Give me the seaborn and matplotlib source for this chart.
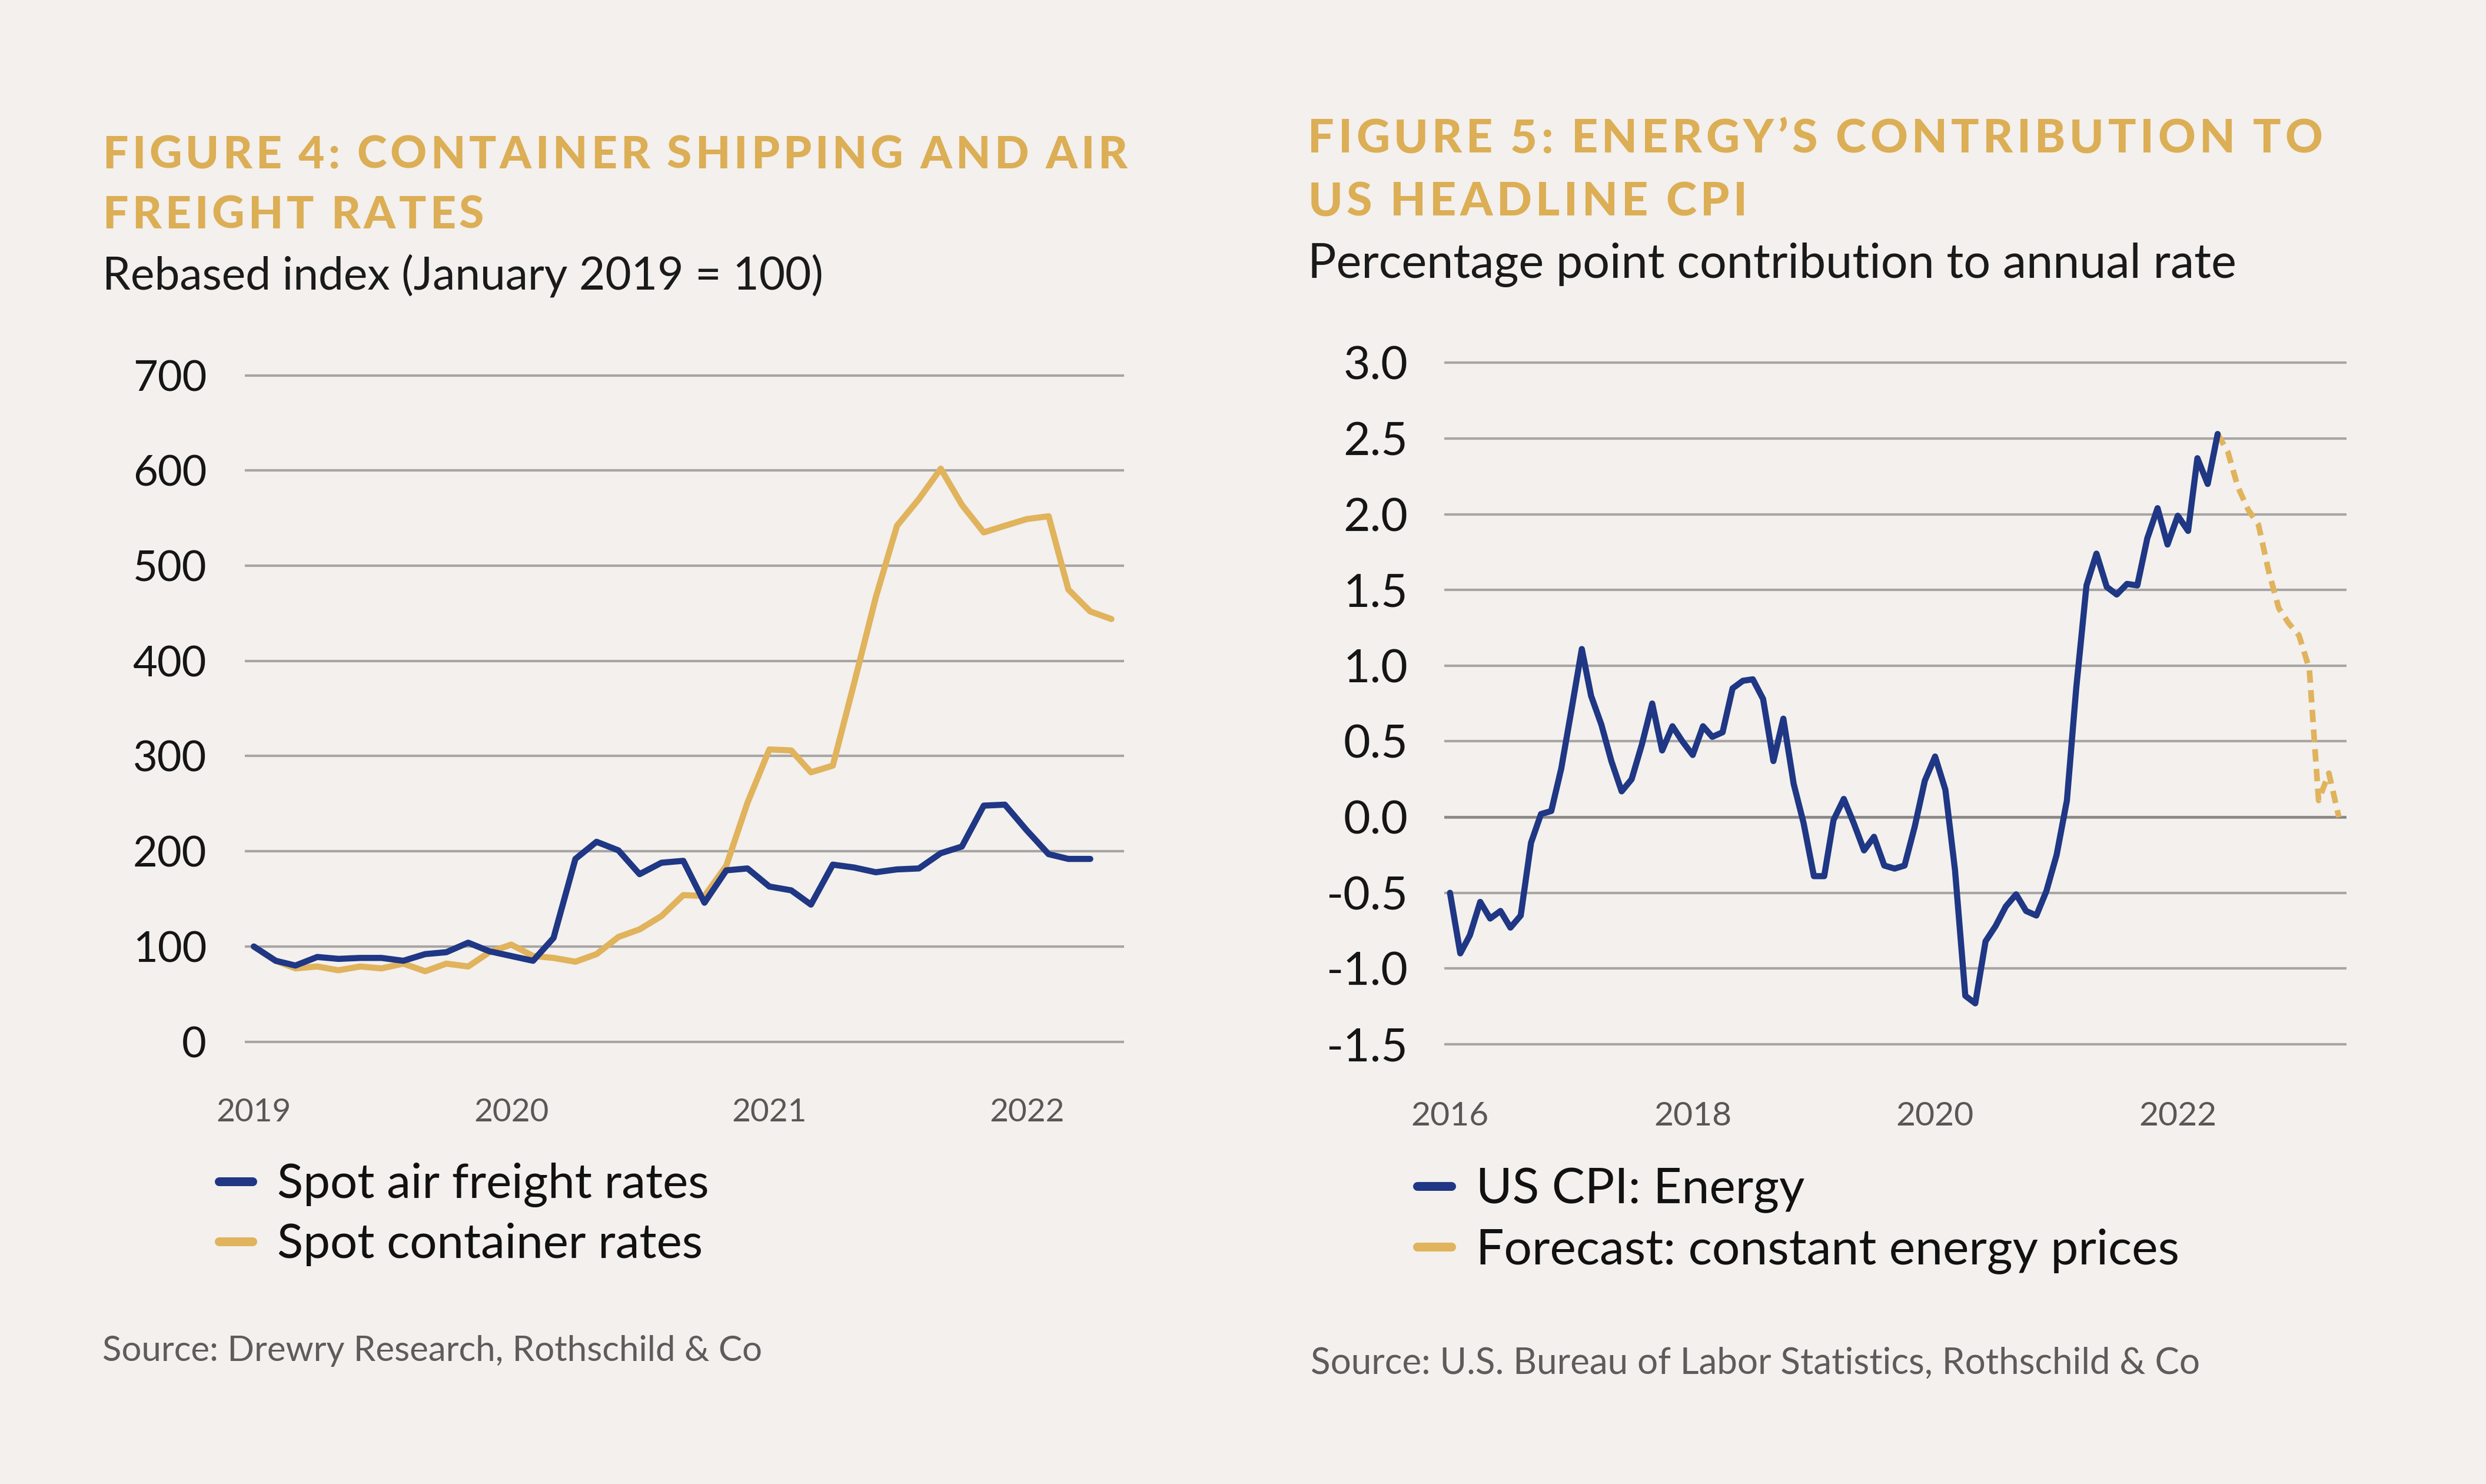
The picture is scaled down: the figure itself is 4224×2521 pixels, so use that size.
import pandas as pd
import matplotlib
matplotlib.use("Agg")
import matplotlib.pyplot as plt
import matplotlib.dates as mdates
from matplotlib.lines import Line2D
import seaborn as sns

# ---------------- data ----------------
# Figure 4: monthly, Jan 2019 onwards (rebased, Jan 2019 = 100)
air_freight = [100, 85, 80, 89, 87, 88, 88, 85, 92, 94, 104, 95, 90, 85, 109, 192,
               210, 201, 176, 188, 190, 146, 180, 182, 163, 159, 144, 186, 183, 178,
               181, 182, 198, 205, 248, 249, 222, 197, 192, 192]
container_rates = [100, 85, 77, 79, 75, 79, 77, 82, 74, 82, 79, 94, 102, 90, 88, 84,
                   92, 110, 118, 132, 154, 153, 185, 251, 307, 306, 283, 290, 376, 467,
                   542, 570, 602, 564, 535, 542, 549, 552, 475, 452, 444]
fig4_months = pd.date_range("2019-01-01", periods=len(container_rates), freq="MS")
fig4_years = ["2019", "2020", "2021", "2022"]
fig4_yticks = [0, 100, 200, 300, 400, 500, 600, 700]

# Figure 5: monthly, Jan 2016 onwards (pp contribution)
cpi_energy = [-0.50, -0.90, -0.78, -0.56, -0.67, -0.62, -0.73, -0.65, -0.17, 0.02,
              0.04, 0.32, 0.71, 1.11, 0.80, 0.61, 0.37, 0.17, 0.25, 0.48,
              0.75, 0.44, 0.60, 0.50, 0.41, 0.60, 0.53, 0.56, 0.85, 0.90,
              0.91, 0.78, 0.37, 0.65, 0.22, -0.04, -0.39, -0.39, -0.02, 0.12,
              -0.04, -0.22, -0.13, -0.32, -0.34, -0.32, -0.06, 0.24, 0.40, 0.18,
              -0.35, -1.18, -1.23, -0.82, -0.72, -0.59, -0.51, -0.62, -0.65, -0.49,
              -0.25, 0.11, 0.85, 1.53, 1.74, 1.52, 1.47, 1.54, 1.53, 1.84,
              2.04, 1.80, 1.99, 1.89, 2.37, 2.20, 2.53]
cpi_forecast = [2.53, 2.41, 2.18, 2.03, 1.93, 1.63, 1.38, 1.28, 1.20, 0.98, 0.11, 0.29, 0.00]
fig5_months = pd.date_range("2016-01-01", periods=len(cpi_energy), freq="MS")
forecast_months = pd.date_range("2022-05-01", periods=len(cpi_forecast), freq="MS")
fig5_years = ["2016", "2018", "2020", "2022"]
fig5_yticks = [-1.5, -1.0, -0.5, 0.0, 0.5, 1.0, 1.5, 2.0, 2.5, 3.0]

BG = "#f3f0ed"
NAVY = "#1f3784"
GOLD = "#e0b35c"
TITLE_GOLD = "#dcae55"
GRID = "#a8a6a4"

sns.set_theme(style="white", rc={"axes.facecolor": BG, "figure.facecolor": BG})
plt.rcParams["font.family"] = ["Lato", "DejaVu Sans"]

# layout is measured in pixels of the 1568-wide preview
SCALE = 4224 / 1568
W, H = 1568.0, 2521 / SCALE
PT = SCALE * 72 / 300   # points per preview pixel

fig = plt.figure(figsize=(4224 / 300, 2521 / 300), dpi=300)
fig.patch.set_facecolor(BG)
renderer = fig.canvas.get_renderer()


def fx(x):
    return x / W


def fy(y):
    return 1 - y / H


def ink_width(s, size, **kw):
    t = fig.text(0, 0, s, fontsize=size, **kw)
    w = t.get_window_extent(renderer=renderer).width
    t.remove()
    return w


def fit(s, width, **kw):
    return 20 * width * SCALE / ink_width(s, 20, **kw)


def tracked_title(x, ys, lines, width, cap, **kw):
    # letter spaced heading, spread to the measured width
    size = cap * PT / 0.7165
    space = 0.22 * size * 300 / 72
    widths = [ink_width(c, size, **kw) for c in lines[0] if c != " "]
    natural = sum(widths) + space * lines[0].count(" ")
    track = (width * SCALE - natural) / (len(lines[0]) - 1)
    for line, y in zip(lines, ys):
        pos = x * SCALE
        for ch in line:
            if ch == " ":
                pos += space + track
                continue
            fig.text(pos / 4224, fy(y), ch, fontsize=size, va="baseline", **kw)
            pos += ink_width(ch, size, **kw) + track


def make_axes(x0, x1, y_top, y_bot):
    return fig.add_axes([fx(x0), fy(y_bot), (x1 - x0) / W, (y_bot - y_top) / H])


def style_axes(ax, yticks, ylabels, years, ysize, xsize, ypad, xcenter, bottom):
    ax.set_yticks(yticks, labels=ylabels)
    ax.set_xticks([mdates.date2num(pd.Timestamp(f"{y}-01-01")) for y in years], labels=years)
    for s in ax.spines.values():
        s.set_visible(False)
    ax.grid(axis="y", color=GRID, linewidth=1.0)
    ax.grid(axis="x", visible=False)
    ax.set_axisbelow(True)
    ax.set_xlabel("")
    ax.set_ylabel("")
    xpad = (xcenter - bottom) * PT - 0.40 * xsize
    ax.tick_params(axis="y", length=0, pad=ypad * PT, labelsize=ysize, labelcolor="#151515")
    ax.tick_params(axis="x", length=0, pad=xpad, labelsize=xsize, labelcolor="#5a5856")


def add_legend(ax, labels, colors, x, y_center, pitch, size):
    handles = [Line2D([], [], color=c, lw=3.6, solid_capstyle="round") for c in colors]
    ax.legend(handles, labels, loc="upper left",
              bbox_to_anchor=(fx(x), fy(y_center - 0.47 * size / PT)),
              bbox_transform=fig.transFigure, frameon=False, fontsize=size,
              handlelength=(27 * PT - 3.6) / size, handletextpad=15.5 * PT / size,
              labelspacing=pitch * PT / size - 0.95, borderpad=0, borderaxespad=0,
              labelcolor="#111111")


# ---------------- Figure 4 ----------------
df4 = pd.concat([
    pd.DataFrame({"month": fig4_months, "value": container_rates,
                  "series": "Spot container rates"}),
    pd.DataFrame({"month": fig4_months[:len(air_freight)], "value": air_freight,
                  "series": "Spot air freight rates"}),
])

ax4 = make_axes(154.3, 709.0, 227.7, 665.9)
sns.lineplot(data=df4, x="month", y="value", hue="series",
             hue_order=["Spot container rates", "Spot air freight rates"],
             palette=[GOLD, NAVY], linewidth=2.5, legend=False, ax=ax4)
ax4.set_ylim(-15, 715)
ax4.set_xlim(pd.Timestamp("2019-01-01") - pd.Timedelta(days=13),
             pd.Timestamp("2019-01-01") + pd.Timedelta(days=1234))
style_axes(ax4, fig4_yticks, [str(v) for v in fig4_yticks], fig4_years,
           fit("700", 46.7), fit("2019", 47.3), 24.0, 700.5, 665.9)

tracked_title(64.7, [106.0, 144.0], ["FIGURE 4: CONTAINER SHIPPING AND AIR", "FREIGHT RATES"],
              646.3, 20.4, color=TITLE_GOLD, fontweight="black")
sub4 = "Rebased index (January 2019 = 100)"
fig.text(fx(64.7), fy(182.4), sub4, fontsize=fit(sub4, 454.9),
         color="#1a1a1a", va="baseline")
src4 = "Source: Drewry Research, Rothschild & Co"
fig.text(fx(64.7), fy(858.4), src4, fontsize=fit(src4, 416.6),
         color="#5e5c5a", va="baseline")
add_legend(ax4, ["Spot air freight rates", "Spot container rates"], [NAVY, GOLD],
           138, 747.5, 38.4, fit("Spot air freight rates", 273))

# ---------------- Figure 5 ----------------
ax5 = make_axes(911.0, 1480.0, 219.25, 668.05)
sns.lineplot(x=forecast_months, y=cpi_forecast, color=GOLD, linewidth=2.3,
             linestyle=(0, (2.2, 1.3)), ax=ax5)
sns.lineplot(x=fig5_months, y=cpi_energy, color=NAVY, linewidth=2.5, ax=ax5)
ax5.set_ylim(-1.6, 3.1)
ax5.set_xlim(pd.Timestamp("2016-01-01") - pd.Timedelta(days=17),
             pd.Timestamp("2016-01-01") + pd.Timedelta(days=2700))
style_axes(ax5, fig5_yticks, [f"{v:.1f}" for v in fig5_yticks], fig5_years,
           fit("3.0", 40.7), fit("2016", 49.1), 23.0, 703.0, 668.05)
ax5.axhline(0, color="#8b8987", linewidth=1.1, zorder=1)

tracked_title(825.0, [96.3, 136.0], ["FIGURE 5: ENERGY\u2019S CONTRIBUTION TO", "US HEADLINE CPI"],
              639.8, 21.0, color=TITLE_GOLD, fontweight="black")
sub5 = "Percentage point contribution to annual rate"
fig.text(fx(825.0), fy(175.3), sub5, fontsize=fit(sub5, 586.7),
         color="#1a1a1a", va="baseline")
src5 = "Source: U.S. Bureau of Labor Statistics, Rothschild & Co"
fig.text(fx(826.6), fy(866.4), src5, fontsize=fit(src5, 562.0),
         color="#5e5c5a", va="baseline")
add_legend(ax5, ["US CPI: Energy", "Forecast: constant energy prices"], [NAVY, GOLD],
           894, 751.0, 39.0, fit("Forecast: constant energy prices", 444.8))

fig.savefig("out.png", dpi=300, facecolor=BG)
